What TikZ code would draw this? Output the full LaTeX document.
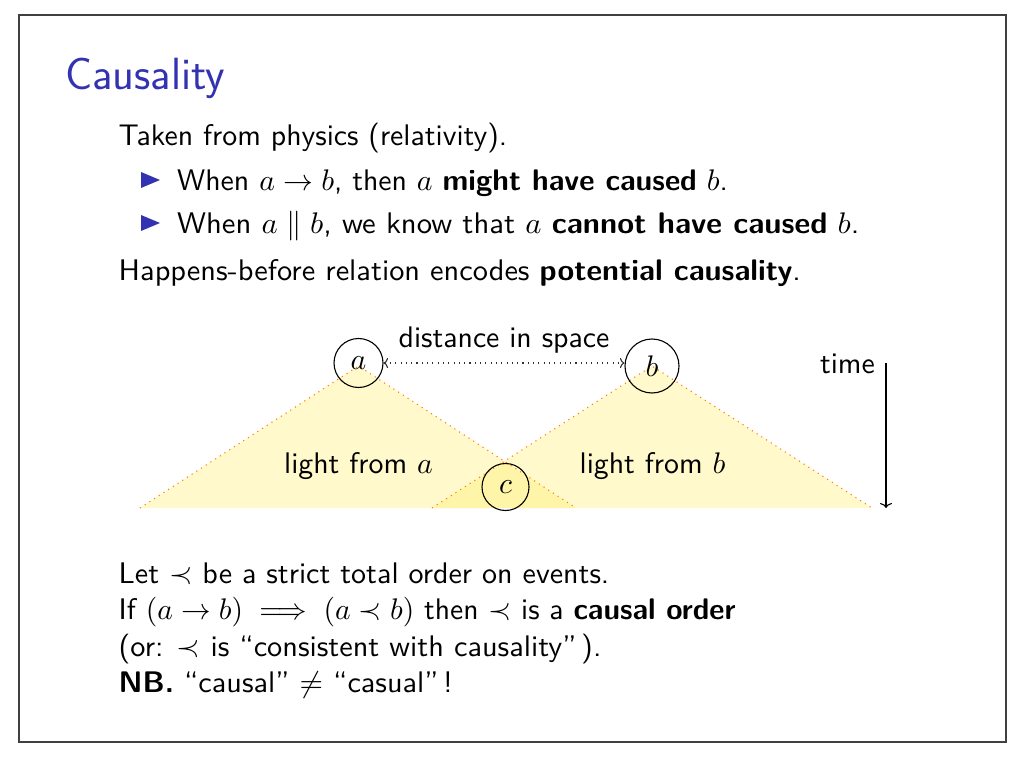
\documentclass[tikz,border=0pt]{standalone}
\usepackage{graphicx}
\usepackage{amsmath,amssymb}
\usetikzlibrary{arrows.meta}
\definecolor{structure}{rgb}{0.2,0.2,0.7}
\definecolor{lightcone}{RGB}{255,238,88}
\newcommand{\slidetext}[1]{\scalebox{2.72}{#1}}
\newcommand{\slidetextw}[2]{\scalebox{#1}[2.72]{#2}}
\begin{document}
\begin{tikzpicture}[x=1pt,y=-1pt,
  txt/.style={anchor=base west, inner sep=0pt, font=\sffamily\fontsize{10.95}{13}\selectfont},
  ctxt/.style={txt, anchor=base},
  event/.style={draw, circle, inner sep=0pt, line width=1.1pt, font=\fontsize{10.95}{13}\selectfont},
  cone/.style={fill=lightcone, fill opacity=0.3, draw=none},
  coneedge/.style={draw=orange, line width=1.1pt, dash pattern=on 1.1pt off 4.5pt},
  spacearrow/.style={draw=black!80, line width=1.1pt, dash pattern=on 1.1pt off 4.2pt,
     {Computer Modern Rightarrow[length=4.5pt,width=10pt,line width=1.1pt]}-{Computer Modern Rightarrow[length=4.5pt,width=10pt,line width=1.1pt]}},
  timearrow/.style={draw=black, line width=1.1pt,
     -{Computer Modern Rightarrow[length=5pt,width=12pt,line width=1.1pt]}},
  bullet/.style={fill=structure, draw=none}
]
\useasboundingbox (0,0) rectangle (1034,762);
\fill[white] (0,0) rectangle (1034,762);
\draw[line width=1.3pt, black!75] (19,15) rectangle (1006,742);

% title
\node[txt, text=structure] (title) at (65,90) {\slidetext{\fontsize{16.6}{19}\selectfont Causality}};

% body text
\node[txt] (l1) at (118.5,146) {\slidetext{Taken from physics (relativity).}};
\fill[bullet] (141,172) -- (160,180) -- (141,188) -- cycle;
\node[txt] (l2) at (177,191) {\slidetext{When $a \to b$, then $a$ \textbf{might have caused} $b$.}};
\fill[bullet] (141,215) -- (160,223) -- (141,231) -- cycle;
\node[txt] (l3) at (177,234) {\slidetextw{2.80}{When $a \parallel b$, we know that $a$ \textbf{cannot have caused} $b$.}};
\node[txt] (l4) at (118.5,280) {\slidetextw{2.77}{Happens-before relation encodes \textbf{potential causality}.}};

% diagram: light cones
\coordinate (aL) at (140,508);
\coordinate (aT) at (358.5,366);
\coordinate (aR) at (576,508);
\coordinate (bL) at (432,508);
\coordinate (bT) at (652,366);
\coordinate (bR) at (872,508);
\fill[cone] (aL) -- (aT) -- (aR) -- cycle;
\fill[cone] (bL) -- (bT) -- (bR) -- cycle;
\draw[coneedge] (aL) -- (aT) -- (aR);
\draw[coneedge] (bL) -- (bT) -- (bR);

% events
\node[event, minimum size=49pt] (a) at (358.5,363) {\slidetext{$a$}};
\node[event, minimum size=54pt] (b) at (652,366) {\slidetext{$b$}};
\node[event, minimum size=47pt] (c) at (505.5,487) {\slidetext{$c$}};

\draw[spacearrow] (a) -- (a -| b.west);
\node[ctxt] (dist) at (504,347) {\slidetext{distance in space}};

\node[ctxt] (la) at (358.5,473) {\slidetext{light from $a$}};
\node[ctxt] (lb) at (652.5,473) {\slidetext{light from $b$}};

\node[txt, anchor=base east] (time) at (875,373) {\slidetext{time}};
\coordinate (t0) at (886,363);
\coordinate (t1) at (886,508);
\draw[timearrow] (t0) -- (t1);

% bottom text
\node[txt] (m1) at (118.5,583) {\slidetextw{2.74}{Let $\prec$ be a strict total order on events.}};
\node[txt] (m2) at (118.5,619.5) {\slidetextw{2.70}{If $(a \to b) \implies (a \prec b)$ then $\prec$ is a \textbf{causal order}}};
\node[txt] (m3) at (118.5,656) {\slidetextw{2.765}{(or: $\prec$ is ``consistent with causality''\kern0.15em).}};
\node[txt] (m4) at (118.5,692) {\slidetextw{2.76}{\textbf{NB.} ``causal'' $\neq$ ``casual''\kern0.15em!}};
\end{tikzpicture}
\end{document}
